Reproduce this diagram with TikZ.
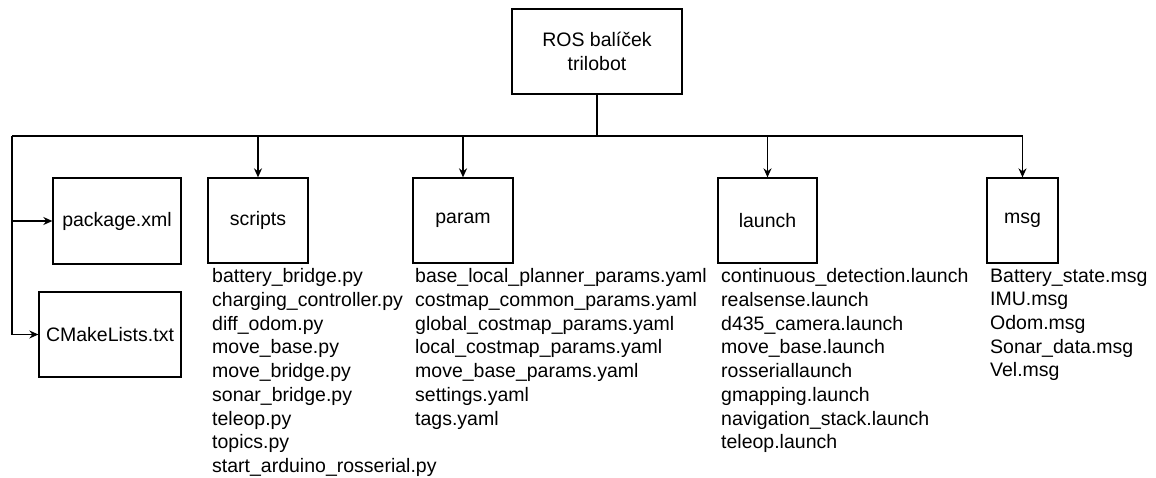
\documentclass[tikz,border=0pt]{standalone}
\usepackage{fontspec}
\setmainfont{Liberation Sans}
\usetikzlibrary{arrows.meta}
\begin{document}
\begin{tikzpicture}[x=1pt,y=-1pt,
  box/.style={draw=black,line width=1.3pt,minimum width=#1,minimum height=85pt,inner sep=0pt,align=center},
  conn/.style={draw=black,line width=1.3pt},
  arr/.style={conn,-{Stealth[length=9pt,width=8pt]}},
  list/.style={anchor=north west,inner sep=0pt,align=left},
  font=\fontsize{19.5}{23.7}\selectfont]
\useasboundingbox (0,0) rectangle (1156,477);
\node[box=170pt] (root) at (597,51.5) {ROS balíček\\trilobot};
\node[box=128pt,minimum height=86pt] (pkg) at (117,221) {package.xml};
\node[box=142pt] (cmake) at (110,334.5) {CMakeLists.txt};
\node[box=100pt] (scripts) at (258,220.5) {scripts};
\node[box=100pt] (param) at (463,220.5) {param};
\node[box=99pt] (launch) at (767.5,220.5) {launch};
\node[box=71pt] (msg) at (1022.5,220.5) {msg};
\coordinate (jl) at (12,136);
\coordinate (jr) at (1022.5,136);
\draw[conn] (root.south) -- (root.south |- jl);
\draw[conn] (jl) -- (jr);
\draw[arr] (jl) |- (pkg.west);
\draw[arr] (jl) |- (cmake.west);
\draw[arr] (scripts.north |- jl) -- (scripts.north);
\draw[arr] (param.north |- jl) -- (param.north);
\draw[arr] (launch.north |- jl) -- (launch.north);
\draw[arr] (jr) -- (msg.north);
\node[list] (lscripts) at (212,268.5) {battery\_bridge.py\\charging\_controller.py\\diff\_odom.py\\move\_base.py\\move\_bridge.py\\sonar\_bridge.py\\teleop.py\\topics.py\\start\_arduino\_rosserial.py};
\node[list] (lparam) at (415,268.5) {base\_local\_planner\_params.yaml\\costmap\_common\_params.yaml\\global\_costmap\_params.yaml\\local\_costmap\_params.yaml\\move\_base\_params.yaml\\settings.yaml\\tags.yaml};
\node[list] (llaunch) at (721,268.5) {continuous\_detection.launch\\realsense.launch\\d435\_camera.launch\\move\_base.launch\\rosseriallaunch\\gmapping.launch\\navigation\_stack.launch\\teleop.launch};
\node[list] (lmsg) at (990,268.5) {Battery\_state.msg\\IMU.msg\\Odom.msg\\Sonar\_data.msg\\Vel.msg};
\end{tikzpicture}
\end{document}
